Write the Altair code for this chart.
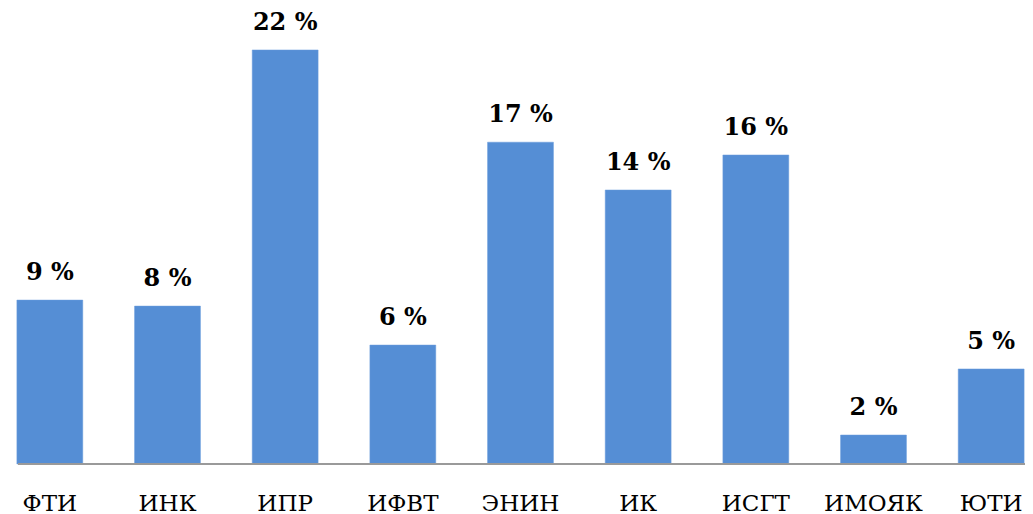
import altair as alt
import pandas as pd

categories = ["ФТИ", "ИНК", "ИПР", "ИФВТ", "ЭНИН", "ИК", "ИСГТ", "ИМОЯК", "ЮТИ"]
values = [8.71, 8.39, 22.0, 6.32, 17.1, 14.56, 16.42, 1.54, 5.05]
labels = ["9 %", "8 %", "22 %", "6 %", "17 %", "14 %", "16 %", "2 %", "5 %"]

df = pd.DataFrame({"cat": categories, "val": values, "lab": labels})

W = 1017
H = 456
SERIF = "DejaVu Serif"

x = alt.X("cat:N", sort=categories,
          scale=alt.Scale(range=[-17, 1042], paddingInner=0.44, paddingOuter=0.22),
          axis=alt.Axis(title=None, labelAngle=0, ticks=False, domain=False,
                        labelFont=SERIF, labelFontSize=23,
                        labelColor="#000000", labelBaseline="alphabetic",
                        labelPadding=46, grid=False))
y = alt.Y("val:Q", scale=alt.Scale(domain=[0, 24.23], nice=False, zero=True),
          axis=None)

bars = alt.Chart(df).mark_bar(color="#558ED5", stroke="#6A9DDD", strokeWidth=0.5).encode(x=x, y=y)
text = alt.Chart(df).mark_text(font=SERIF, fontSize=24, fontWeight="bold",
                               color="#000000", baseline="alphabetic", dy=-20).encode(
    x=alt.X("cat:N", sort=categories), y="val:Q", text="lab:N")
rule = alt.Chart(df).mark_rule(color="#9A9A9A", strokeWidth=1.5).encode(
    x=alt.value(10), x2=alt.value(W), y=alt.value(H))

chart = alt.layer(bars, rule, text).properties(
    width=W, height=H,
    autosize=alt.AutoSizeParams(type="none"),
    padding={"left": 0, "top": 0, "right": 0, "bottom": 50},
).configure_view(stroke=None)

chart.save("out.html", embed_options={"renderer": "svg", "actions": False})
